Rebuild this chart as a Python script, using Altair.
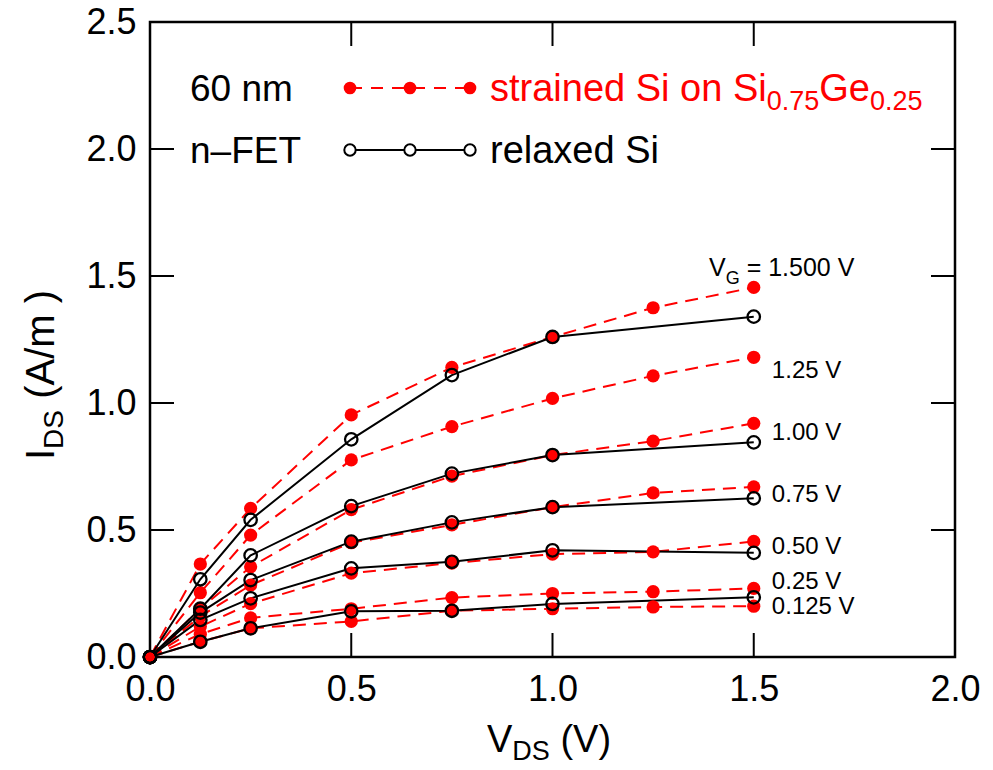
import altair as alt
import pandas as pd

# ---------------- data ----------------
VDS_STRAINED = [0, 0.125, 0.25, 0.5, 0.75, 1.0, 1.25, 1.5]
VG_STRAINED = ["1.500", "1.25", "1.00", "0.75", "0.50", "0.25", "0.125"]
IDS_STRAINED = [
    [0, 0.366, 0.585, 0.953, 1.14, 1.26, 1.375, 1.455],
    [0, 0.253, 0.48, 0.776, 0.907, 1.018, 1.107, 1.18],
    [0, 0.19, 0.355, 0.58, 0.712, 0.795, 0.85, 0.92],
    [0, 0.16, 0.283, 0.45, 0.52, 0.59, 0.646, 0.67],
    [0, 0.12, 0.21, 0.33, 0.37, 0.405, 0.414, 0.455],
    [0, 0.09, 0.154, 0.19, 0.234, 0.25, 0.257, 0.27],
    [0, 0.06, 0.113, 0.14, 0.182, 0.19, 0.197, 0.20],
]

VDS_RELAXED = [0, 0.125, 0.25, 0.5, 0.75, 1.0, 1.5]
VG_RELAXED = ["1.500", "1.00", "0.75", "0.50", "0.25"]
IDS_RELAXED = [
    [0, 0.306, 0.54, 0.857, 1.11, 1.26, 1.34],
    [0, 0.19, 0.40, 0.594, 0.722, 0.795, 0.845],
    [0, 0.175, 0.303, 0.454, 0.53, 0.59, 0.625],
    [0, 0.146, 0.231, 0.349, 0.375, 0.42, 0.41],
    [0, 0.06, 0.113, 0.18, 0.182, 0.209, 0.235],
]

CURVE_LABELS = ["1.25 V", "1.00 V", "0.75 V", "0.50 V", "0.25 V", "0.125 V"]
X_TICKS = [0, 0.5, 1.0, 1.5, 2.0]
Y_TICKS = [0, 0.5, 1.0, 1.5, 2.0, 2.5]

# ---------------- layout ----------------
W, H = 805, 635
PAD = {"left": 142, "top": 14, "right": 30, "bottom": 112}
OX, OY = 8 + PAD["left"], 8 + PAD["top"]  # page position of plot origin
RED = "#ff0000"
FONT = "Liberation Sans"
TICK_LEN = 24
LABEL_X = 1.545
LABEL_Y = [1.126, 0.882, 0.638, 0.433, 0.295, 0.195]

ARIAL = {" ": 278, "(": 333, ")": 333, ".": 278, "/": 278, "=": 584, "A": 667, "D": 722,
         "E": 667, "F": 611, "G": 778, "I": 278, "S": 667, "T": 611, "V": 667, "a": 556,
         "d": 556, "e": 556, "i": 222, "l": 222, "m": 833, "n": 556, "o": 556, "r": 333,
         "s": 500, "t": 278, "x": 500, "\u2013": 556}


def tw(s, size):
    return sum(ARIAL.get(c, 556) for c in s) * size / 1000.0


def piece(text, xp, yp, size, color="black", angle=0):
    """Text at page position (xp, yp) = left end of baseline."""
    kw = dict(fontSize=size, font=FONT, color=color, align="left", baseline="alphabetic")
    if angle:
        kw["angle"] = angle
    return alt.Chart(pd.DataFrame({"t": [text]})).mark_text(**kw).encode(
        text="t:N", x=alt.value(xp - OX), y=alt.value(yp - OY))


def run(pieces, x0, y0, horizontal=True):
    """Consecutive text pieces: (text, size, dy_offset, color); leading spaces become gaps."""
    out = []
    pos = x0 if horizontal else y0
    for text, size, off, color in pieces:
        lead = len(text) - len(text.lstrip(" "))
        gap = tw(" " * lead, size)
        text = text.lstrip(" ")
        if horizontal:
            pos += gap
            out.append(piece(text, pos, y0 + off, size, color))
            pos += tw(text, size)
        else:
            pos -= gap
            out.append(piece(text, x0 + off, pos, size, color, angle=270))
            pos -= tw(text, size)
    return out


# ---------------- data frames ----------------
rows = []
for vg, ys in zip(VG_STRAINED, IDS_STRAINED):
    for x, y in zip(VDS_STRAINED, ys):
        rows.append({"vds": x, "ids": y, "vg": vg})
strained = pd.DataFrame(rows)
rows = []
for vg, ys in zip(VG_RELAXED, IDS_RELAXED):
    for x, y in zip(VDS_RELAXED, ys):
        rows.append({"vds": x, "ids": y, "vg": vg})
relaxed = pd.DataFrame(rows)

xs = alt.Scale(domain=[0, 2], nice=False, zero=False)
ys_ = alt.Scale(domain=[0, 2.5], nice=False, zero=False)
xaxis = alt.Axis(values=X_TICKS, format=".1f", labelFontSize=36, labelFont=FONT, labelColor="black",
                 ticks=False, domain=False, grid=False, labelPadding=15, title=None, labelFlush=False)
yaxis = alt.Axis(values=Y_TICKS, format=".1f", labelFontSize=36, labelFont=FONT, labelColor="black",
                 ticks=False, domain=False, grid=False, labelPadding=14, title=None, labelFlush=False)
X = alt.X("vds:Q", scale=xs, axis=xaxis)
Y = alt.Y("ids:Q", scale=ys_, axis=yaxis)

red_lines = alt.Chart(strained).mark_line(color=RED, strokeWidth=2, strokeDash=[13, 8]).encode(
    x=X, y=Y, detail="vg:N", order="vds:Q")
black_lines = alt.Chart(relaxed).mark_line(color="black", strokeWidth=2).encode(
    x=X, y=Y, detail="vg:N", order="vds:Q")
red_pts = alt.Chart(strained).mark_point(shape="circle", filled=True, color=RED, size=175, opacity=1).encode(
    x=X, y=Y)
black_pts = alt.Chart(relaxed).mark_point(shape="circle", filled=False, color="black", strokeWidth=2.3,
                                          size=155, opacity=1).encode(x=X, y=Y)

# inward ticks on all four sides
tx = pd.DataFrame({"vds": X_TICKS[1:-1]})
ty = pd.DataFrame({"ids": Y_TICKS[1:-1]})
ticks = [
    alt.Chart(tx).mark_rule(color="black", strokeWidth=2).encode(x=X, y=alt.value(H), y2=alt.value(H - TICK_LEN)),
    alt.Chart(tx).mark_rule(color="black", strokeWidth=2).encode(x=X, y=alt.value(0), y2=alt.value(TICK_LEN)),
    alt.Chart(ty).mark_rule(color="black", strokeWidth=2).encode(y=Y, x=alt.value(0), x2=alt.value(TICK_LEN)),
    alt.Chart(ty).mark_rule(color="black", strokeWidth=2).encode(y=Y, x=alt.value(W), x2=alt.value(W - TICK_LEN)),
]

# curve labels (data coordinates)
lab_df = pd.DataFrame({"vds": [LABEL_X] * len(CURVE_LABELS), "ids": LABEL_Y, "t": CURVE_LABELS})
curve_labels = alt.Chart(lab_df).mark_text(align="left", baseline="middle", fontSize=24, font=FONT,
                                           color="black").encode(x=X, y=Y, text="t:N")

texts = []
# V_G = 1.500 V
texts += run([("V", 25, 0, "black"), ("G", 18, 8, "black"), (" = 1.500 V", 25, 0, "black")], 709, 276)
# legend
texts.append(piece("60 nm", 190, 101, 37))
texts.append(piece("n\u2013FET", 190, 163, 37))
texts += run([("strained Si on Si", 38, 0, RED), ("0.75", 27, 9, RED), ("Ge", 38, 0, RED),
              ("0.25", 27, 9, RED)], 490, 101)
texts += run([("relaxed Si", 38, 0, "black")], 490, 163)
# axis titles
texts += run([("V", 38, 0, "black"), ("DS", 27, 8, "black"), (" (V)", 38, 0, "black")], 487, 752)
texts += run([("I", 40, 0, "black"), ("DS", 28, 9, "black"), (" (A/m )", 40, 0, "black")], 54, 460,
             horizontal=False)

# legend glyphs (pixel positions)
leg_x = [350 - OX, 410 - OX, 470 - OX]
leg_df = pd.DataFrame({"px": leg_x})
legend = [
    alt.Chart(leg_df).mark_rule(color=RED, strokeWidth=2, strokeDash=[12, 9]).encode(
        x=alt.value(leg_x[0]), x2=alt.value(leg_x[-1]), y=alt.value(88 - OY)),
    alt.Chart(leg_df).mark_point(shape="circle", filled=True, color=RED, size=160, opacity=1).encode(
        x=alt.X("px:Q", scale=None), y=alt.value(88 - OY)),
    alt.Chart(leg_df).mark_rule(color="black", strokeWidth=2).encode(
        x=alt.value(leg_x[0]), x2=alt.value(leg_x[-1]), y=alt.value(150 - OY)),
    alt.Chart(leg_df).mark_point(shape="circle", filled=True, fill="white", stroke="black", strokeWidth=2,
                                 size=130, opacity=1).encode(
        x=alt.X("px:Q", scale=None), y=alt.value(150 - OY)),
]

chart = alt.layer(red_lines, black_lines, red_pts, black_pts, *ticks, curve_labels, *legend, *texts).properties(
    width=W, height=H, padding=PAD, autosize=alt.AutoSizeParams(type="none"), background="white"
).configure_view(stroke="black", strokeWidth=2.5)

chart.save("out.html", embed_options={"renderer": "svg", "actions": False})
